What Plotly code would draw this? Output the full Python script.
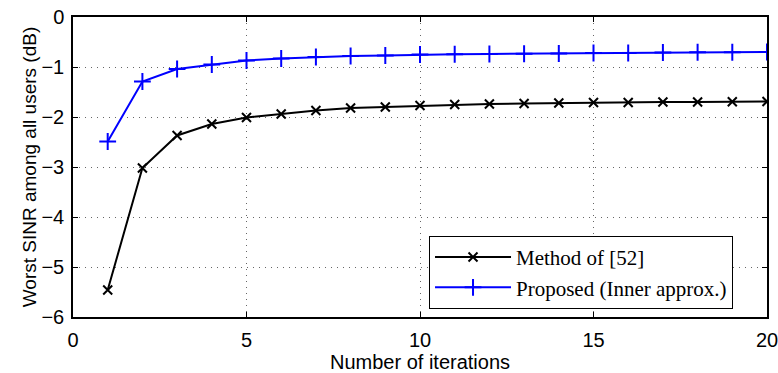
import plotly.graph_objects as go

iterations = list(range(1, 21))
method52 = [-5.46, -3.02, -2.37, -2.14, -2.01, -1.94, -1.87, -1.82, -1.80, -1.77,
            -1.75, -1.74, -1.73, -1.72, -1.71, -1.71, -1.70, -1.70, -1.695, -1.69]
proposed = [-2.49, -1.29, -1.04, -0.95, -0.87, -0.83, -0.80, -0.78, -0.77, -0.75,
            -0.745, -0.74, -0.735, -0.73, -0.72, -0.72, -0.71, -0.705, -0.705, -0.70]

SANS = "Liberation Sans, Arial"
SERIF = "Liberation Serif, Times New Roman"

fig = go.Figure()
fig.add_trace(go.Scatter(x=iterations, y=method52, mode="lines+markers",
                         name="Method of [52]",
                         line=dict(color="black", width=2),
                         marker=dict(symbol="x-thin", size=9, color="black",
                                     line=dict(color="black", width=2))))
fig.add_trace(go.Scatter(x=iterations, y=proposed, mode="lines+markers",
                         name="Proposed (Inner approx.)",
                         line=dict(color="#0000ff", width=2),
                         marker=dict(symbol="cross-thin", size=12, color="#0000ff",
                                     line=dict(color="#0000ff", width=2))))

axis_common = dict(showline=True, linecolor="black", linewidth=1.5, mirror="allticks",
                   ticks="inside", ticklen=5, tickcolor="black",
                   showgrid=True, gridcolor="#666666", griddash="1px,5px", gridwidth=1,
                   zeroline=False, automargin=False, ticklabeloverflow="allow",
                   tickfont=dict(family=SANS, size=20, color="black"))

fig.update_xaxes(range=[0, 20], tickvals=[0, 5, 10, 15, 20],
                 ticklabelstandoff=4,
                 title=dict(text="Number of iterations", standoff=4,
                            font=dict(family=SANS, size=20, color="black")),
                 **axis_common)
fig.update_yaxes(range=[-6, 0], tickvals=[-6, -5, -4, -3, -2, -1, 0],
                 ticklabelstandoff=3,
                 title=dict(text="Worst SINR among all users (dB)", standoff=0,
                            font=dict(family=SANS, size=19, color="black")),
                 **axis_common)

fig.update_layout(
    width=778, height=373,
    margin=dict(l=73, r=11, t=17, b=56),
    plot_bgcolor="white", paper_bgcolor="white",
    legend=dict(x=0.513, y=0.027, xanchor="left", yanchor="bottom",
                bgcolor="white", bordercolor="black", borderwidth=1,
                font=dict(family=SERIF, size=21, color="black"),
                itemwidth=76, tracegroupgap=0),
    showlegend=True,
)

fig.write_html("out.html")
